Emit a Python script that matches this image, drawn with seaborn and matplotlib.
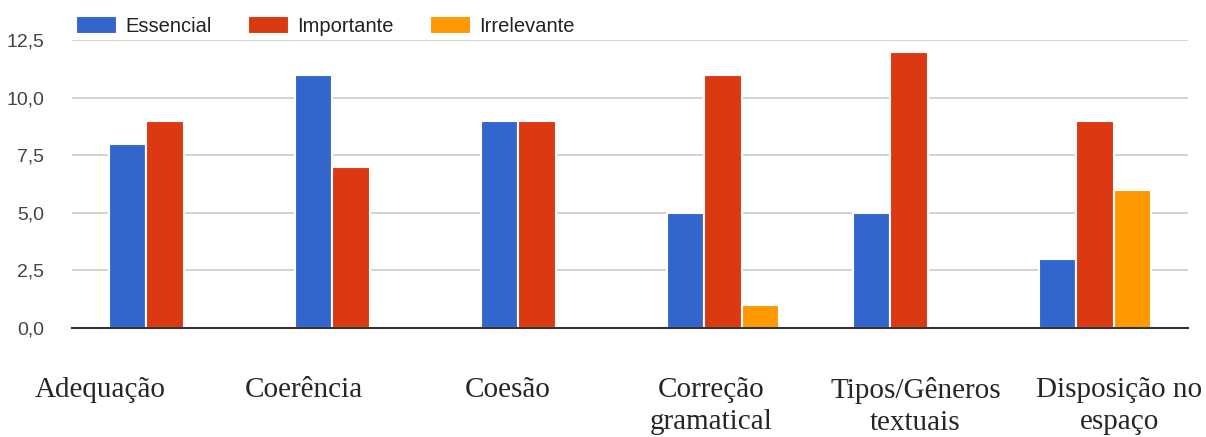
import numpy as np
import pandas as pd
import matplotlib
matplotlib.use('Agg')
import matplotlib.pyplot as plt
import seaborn as sns

# dados
categorias = ['Adequação', 'Coerência', 'Coesão', 'Correção\ngramatical',
              'Tipos/Gêneros\ntextuais', 'Disposição no\nespaço']
essencial = [8, 11, 9, 5, 5, 3]
importante = [9, 7, 9, 11, 12, 9]
irrelevante = [0, 0, 0, 1, 0, 6]
series = ['Essencial', 'Importante', 'Irrelevante']
cores = ['#3366CC', '#DC3912', '#FF9900']
yticks = [0, 2.5, 5, 7.5, 10, 12.5]

df = pd.DataFrame({'categoria': categorias * 3,
                   'serie': [s for s in series for _ in categorias],
                   'valor': essencial + importante + irrelevante})

sns.set_style('white')
plt.rcParams['font.family'] = ['Liberation Sans', 'DejaVu Sans']

fig = plt.figure(figsize=(12.06, 4.37), dpi=100)
ax = fig.add_axes([0.0597, 0.2494, 0.9253, 0.6591])

sns.barplot(data=df, x='categoria', y='valor', hue='serie', hue_order=series,
            palette=cores, width=0.6, edgecolor='white', linewidth=1.5,
            saturation=1, ax=ax, zorder=3)

ax.set_ylim(0, 12.5)
ax.set_xlim(-0.5, len(categorias) - 0.5)
ax.set_yticks(yticks)
ax.set_yticklabels([f'{v:.1f}'.replace('.', ',') for v in yticks],
                   fontsize=14, color='#444444')
ax.tick_params(axis='y', length=0, pad=20)
ax.tick_params(axis='x', length=0)
ax.set_xticklabels([''] * len(categorias))
ax.set_xlabel('')
ax.set_ylabel('')
ax.yaxis.grid(True, color='#cccccc', linewidth=1.2, zorder=0)
for s in ['top', 'right', 'left']:
    ax.spines[s].set_visible(False)
ax.spines['bottom'].set_color('#333333')
ax.spines['bottom'].set_linewidth(1.5)
ax.spines['bottom'].set_zorder(4)

ax.legend(loc='lower left', bbox_to_anchor=(0, 1.0), ncol=3, frameon=False,
          fontsize=14.5, handlelength=2.05, handleheight=0.95,
          handletextpad=0.4, columnspacing=1.8, borderaxespad=0.1,
          borderpad=0.1, labelcolor='#222222')

# rotulos das categorias (em tabela, Times)
for i, c in enumerate(categorias):
    fig.text(0.083 + 0.169 * i, 0.137, c, ha='center', va='top',
             fontsize=21, family='Liberation Serif', linespacing=1.3)

plt.savefig('out.png', dpi=100)
